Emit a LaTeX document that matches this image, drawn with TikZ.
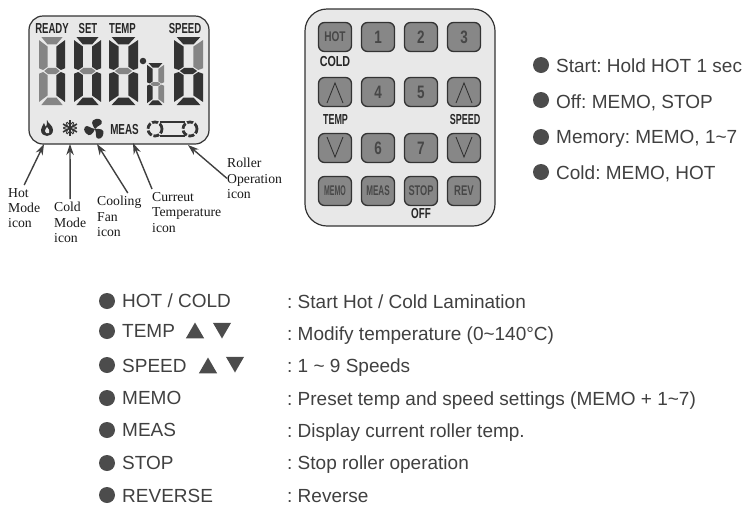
\documentclass[tikz,border=0pt]{standalone}
\usepackage{fontspec}
\setmainfont{Liberation Serif}
\setsansfont{Liberation Sans}
\usetikzlibrary{arrows.meta,positioning,calc,shapes.geometric}

\definecolor{segon}{gray}{0.2}
\definecolor{segoff}{gray}{0.52}
\definecolor{panel}{gray}{0.91}
\definecolor{keyfill}{gray}{0.53}
\definecolor{keyline}{gray}{0.2}
\definecolor{inktxt}{gray}{0.25}

\tikzset{
  panelbox/.style={draw=keyline,line width=1.2pt,fill=panel,rounded corners=14pt},
  keybtn/.style={draw=keyline,line width=1.3pt,fill=keyfill,rounded corners=6pt,minimum width=33pt,minimum height=29pt,inner sep=0pt,text=black!72,font=\sffamily\bfseries\fontsize{14}{14}\selectfont},
  lcdlbl/.style={inner sep=0pt,text=black!85,font=\sffamily\bfseries\fontsize{14.5}{14.5}\selectfont},
  calllbl/.style={inner xsep=0pt,inner ysep=3pt,anchor=north west,align=left,text=black!90,font=\rmfamily\fontsize{13.7}{15.4}\selectfont},
  callarr/.style={-{Stealth[length=11pt,width=7.5pt]},draw=black!75,line width=1.4pt},
  dotmark/.style={circle,fill=black!70,inner sep=0pt,minimum size=16pt},
  listtxt/.style={inner sep=0pt,anchor=base west,text=inktxt,font=\sffamily\frenchspacing\fontsize{19}{19}\selectfont},
  trimark/.style={regular polygon,regular polygon sides=3,fill=black!70,inner sep=0pt,minimum size=21pt},
}

\newcommand{\keynum}{\fontsize{18}{18}\selectfont}

% one digit of the display, seven segment colours
\newcommand{\lcddigit}[8]{
  \begin{scope}[#1]
    \fill[#2] (.9,0)--(9.1,0)--(6.7,2.2)--(3.3,2.2)--cycle;
    \fill[#3] (0,.9)--(3.3,2.8)--(3.3,8.8)--(1.6,9.7)--(0,9.2)--cycle;
    \fill[#4] (10,.9)--(6.7,2.8)--(6.7,8.8)--(8.4,9.7)--(10,9.2)--cycle;
    \fill[#5] (2,10)--(3.5,9.1)--(6.5,9.1)--(8,10)--(6.5,10.9)--(3.5,10.9)--cycle;
    \fill[#6] (0,10.8)--(1.6,10.3)--(3.3,11.2)--(3.3,17.2)--(0,19.1)--cycle;
    \fill[#7] (10,10.8)--(8.4,10.3)--(6.7,11.2)--(6.7,17.2)--(10,19.1)--cycle;
    \fill[#8] (.9,20)--(3.3,17.8)--(6.7,17.8)--(9.1,20)--cycle;
  \end{scope}
}

\begin{document}
\begin{tikzpicture}[>=Stealth,x=1pt,y=-1pt]
\useasboundingbox (0,0) rectangle (750,512);

% display
\node[panelbox,minimum width=180pt,minimum height=128pt] (lcd) at (119,80) {};
\node[lcdlbl] (ready) at (52,29) {\scalebox{.66}[1]{READY}};
\node[lcdlbl] (setl) at (88,29) {\scalebox{.66}[1]{SET}};
\node[lcdlbl] (templ) at (122.5,29) {\scalebox{.66}[1]{TEMP}};
\node[lcdlbl] (speedl) at (185,29) {\scalebox{.66}[1]{SPEED}};
\lcddigit{shift={(39,37)},x=2.6pt,y=-3.4pt}{segoff}{segoff}{segon}{segoff}{segoff}{segon}{segoff}
\lcddigit{shift={(74,37)},x=2.7pt,y=-3.4pt}{segon}{segon}{segon}{segoff}{segon}{segon}{segon}
\lcddigit{shift={(109,37)},x=2.9pt,y=-3.4pt}{segon}{segon}{segon}{segoff}{segon}{segon}{segon}
\lcddigit{shift={(147,63)},x=1.7pt,y=-2.1pt}{segon}{segon}{segoff}{segoff}{segon}{segoff}{segon}
\lcddigit{shift={(174,37)},x=2.9pt,y=-3.4pt}{segon}{segon}{segoff}{segon}{segon}{segon}{segon}
\node[circle,fill=segon,inner sep=0pt,minimum size=6.5pt] (dp) at (143,61) {};

% icons
\fill[segon] (47,120) .. controls (48,124) and (53,125) .. (53,130) .. controls (53,134) and (50,136) .. (47,136) .. controls (44,136) and (41,134) .. (41,130) .. controls (41,127) and (43,126) .. (44,123) .. controls (45,125) and (45,126) .. (46,127) .. controls (47,125) and (47,123) .. (47,120);
\fill[panel] (47,127) .. controls (49,129) and (50,131) .. (49,133) .. controls (47,134) and (45,133) .. (45,131) .. controls (45,130) and (46,129) .. (47,127);
\foreach \a in {0,60,120} {
  \draw[segon,line width=1.6pt,rotate around={\a:(70,128)}] (70,120)--(70,136);
}
\foreach \a in {0,60,...,300} {
  \draw[segon,line width=1pt,rotate around={\a:(70,128)}] (67,122)--(70,125)--(73,122);
}
\foreach \a in {0,120,240} {
  \fill[segon,rotate around={\a:(95,129)}] (95,129) .. controls (92,125) and (90,120) .. (96,119) .. controls (103,118) and (103,124) .. (100,125) .. controls (98,126) and (97,127) .. (95,129);
}
\node[lcdlbl] (meas) at (124.5,130) {\scalebox{.68}[1]{MEAS}};
\draw[segon,line width=2.8pt,dash pattern=on 6pt off 1.8pt] (155,129) circle (7pt);
\draw[segon,line width=2.8pt,dash pattern=on 6pt off 1.8pt] (190,129) circle (7pt);
\draw[segon,line width=2pt] (160,122)--(185,122) (160,136)--(185,136);

% callouts
\coordinate (hotend) at (44,144);
\coordinate (coldend) at (70,144);
\coordinate (fanend) at (97,144);
\coordinate (measend) at (133,143);
\coordinate (rollend) at (188,145);
\node[calllbl] (hotlbl) at (8,185) {Hot\\Mode\\icon};
\node[calllbl] (coldlbl) at (54,199) {Cold\\Mode\\icon};
\node[calllbl] (fanlbl) at (97,193) {Cooling\\Fan\\icon};
\node[calllbl] (curlbl) at (152,189) {Curreut\\Temperature\\icon};
\node[calllbl] (rolllbl) at (227,155) {Roller\\Operation\\icon};
\draw[callarr] (hotlbl.north)--(hotend);
\draw[callarr] (coldlbl.north)--(coldend);
\draw[callarr] (fanlbl.70)--(fanend);
\draw[callarr] (curlbl.north west)--(measend);
\draw[callarr] (rolllbl.west)--(rollend);

% keypad
\node[panelbox,rounded corners=22pt,minimum width=190pt,minimum height=217pt] (pad) at (400,117.5) {};
\foreach \x/\y/\nm/\txt/\sx in {335/37/hot/HOT/.72,378/37/k1/\keynum 1/.75,421/37/k2/\keynum 2/.75,464/37/k3/\keynum 3/.75,
  335/92/tup//1,378/92/k4/\keynum 4/.75,421/92/k5/\keynum 5/.75,464/92/sup//1,
  335/148/tdn//1,378/148/k6/\keynum 6/.75,421/148/k7/\keynum 7/.75,464/148/sdn//1,
  335/191/memo/MEMO/.5,378/191/mea/MEAS/.58,421/191/stop/STOP/.66,464/191/rev/REV/.68} {
  \node[keybtn] (\nm) at (\x,\y) {\scalebox{\sx}[1]{\txt}};
}
\foreach \nm in {tup,sup} {
  \draw[keyline,line width=.9pt] ($(\nm)+(-8,11)$)--($(\nm)+(0,-9)$)--($(\nm)+(8,11)$);
}
\foreach \nm in {tdn,sdn} {
  \draw[keyline,line width=.9pt] ($(\nm)+(-8,-11)$)--($(\nm)+(0,9)$)--($(\nm)+(8,-11)$);
}
\node[lcdlbl] (coldk) at (335,62) {\scalebox{.74}[1]{COLD}};
\node[lcdlbl] (tempk) at (335.5,120) {\scalebox{.62}[1]{TEMP}};
\node[lcdlbl] (speedk) at (465,120) {\scalebox{.62}[1]{SPEED}};
\node[lcdlbl] (offk) at (421,214) {\scalebox{.68}[1]{OFF}};

% right list
\foreach \y/\z/\nm/\txt in {65/72/rstart/{Start: Hold HOT 1 sec},100/108/roff/{Off: MEMO{,} STOP},137/143/rmem/{Memory: MEMO{,} 1\textasciitilde 7},172/179/rcold/{Cold: MEMO{,} HOT}} {
  \node[dotmark] (dot\nm) at (541,\y) {};
  \node[listtxt] (\nm) at (556,\z) {\txt};
}

% lower list
\foreach \y/\z/\w/\nm/\txt/\dsc in {
  301/307/308/lhot/{HOT / COLD}/{: Start Hot / Cold Lamination},
  331/337/340/ltemp/TEMP/{: Modify temperature (0\textasciitilde 140°C)},
  365/372/372/lspeed/SPEED/{: 1 \textasciitilde\ 9 Speeds},
  398/404/405/lmemo/MEMO/{: Preset temp and speed settings (MEMO + 1\textasciitilde 7)},
  430/436/437/lmeas/MEAS/{: Display current roller temp.},
  463/469/469/lstop/STOP/{: Stop roller operation},
  495/502/502/lrev/REVERSE/{: Reverse}} {
  \node[dotmark] (dot\nm) at (107,\y) {};
  \node[listtxt] (\nm) at (122,\z) {\txt};
  \node[listtxt] (dsc\nm) at (287,\w) {\dsc};
}
\node[trimark] (tup1) at (195,333) {};
\node[trimark,shape border rotate=180] (tdn1) at (222,328) {};
\node[trimark] (sup1) at (208,368) {};
\node[trimark,shape border rotate=180] (sdn1) at (235,362) {};
\end{tikzpicture}
\end{document}
